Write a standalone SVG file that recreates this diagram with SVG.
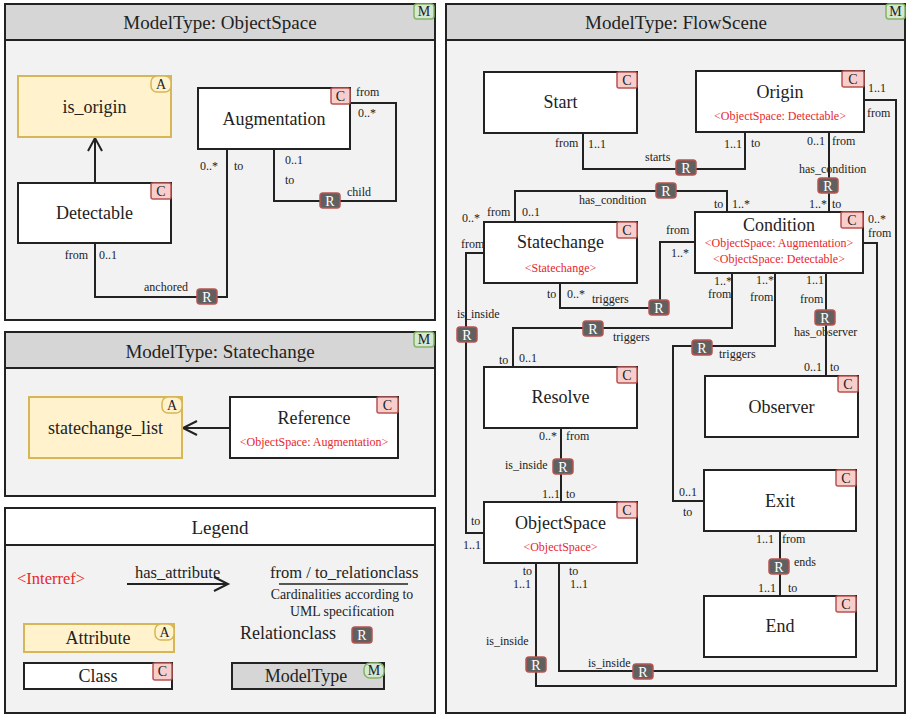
<svg xmlns="http://www.w3.org/2000/svg" width="906" height="714" viewBox="0 0 906 714" font-family="'Liberation Serif', 'DejaVu Serif', serif">
<style>
text{fill:#222}
.panel{fill:#f2f2f2;stroke:#222;stroke-width:2}
.hdr{fill:#d6d6d6;stroke:#222;stroke-width:2}
.hdrw{fill:#fff;stroke:#222;stroke-width:2}
.title{font-size:19px;text-anchor:middle}
.node{fill:#fff;stroke:#222;stroke-width:2}
.attr{fill:#fff2cc;stroke:#d6b656;stroke-width:2}
.lbl{font-size:18px;text-anchor:middle}
.red{font-size:12px;text-anchor:middle;fill:#e8272b}
.s{font-size:12px}
.e{text-anchor:end}
.bc{fill:#f8cecc;stroke:#b85450;stroke-width:1.5}
.ba{fill:#fff2cc;stroke:#d6b656;stroke-width:1.5}
.bm{fill:#d5e8d4;stroke:#82b366;stroke-width:1.5}
.br{fill:#606060;stroke:#b85450;stroke-width:1.5}
.bt{font-size:14px;text-anchor:middle}
.rt{font-size:14px;text-anchor:middle;fill:#fff}
.con{fill:none;stroke:#222;stroke-width:2}
.leg{font-size:16.5px}
</style>

<!-- ObjectSpace panel -->
<g id="panel-objectspace">
<rect class="panel" x="5" y="4" width="430" height="316"/>
<rect class="hdr" x="5" y="4" width="430" height="36"/>
<text class="title" x="220" y="29">ModelType: ObjectSpace</text>
<rect class="bm" x="414" y="4" width="20" height="15" rx="3"/><text class="bt" x="424" y="16">M</text>
</g>

<!-- Statechange panel -->
<g id="panel-statechange">
<rect class="panel" x="5" y="332" width="430" height="164"/>
<rect class="hdr" x="5" y="332" width="430" height="36"/>
<text class="title" x="220" y="358">ModelType: Statechange</text>
<rect class="bm" x="414" y="332" width="20" height="15" rx="3"/><text class="bt" x="424" y="344">M</text>
</g>

<!-- Legend panel -->
<g id="legend">
<rect class="panel" x="5" y="508" width="430" height="205"/>
<rect class="hdrw" x="5" y="508" width="430" height="37"/>
<text class="title" x="220" y="534">Legend</text>
<text class="leg" x="17" y="584" style="fill:#e8272b">&lt;Interref&gt;</text>
<text class="leg" x="135" y="578">has_attribute</text>
<path class="con" d="M127,584 H228 M214,577 L228,584 L214,591" stroke-width="1.5"/>
<text class="leg" x="270" y="578">from / to_relationclass</text>
<line x1="279" y1="584" x2="408" y2="584" stroke="#222" stroke-width="1.5"/>
<text x="342" y="599" style="font-size:13.8px;text-anchor:middle">Cardinalities according to</text>
<text x="342" y="616" style="font-size:13.8px;text-anchor:middle">UML specification</text>
<rect class="attr" x="24" y="624" width="150" height="28"/>
<rect class="ba" x="155" y="624" width="19" height="16" rx="6"/><text class="bt" x="164.5" y="637">A</text>
<text class="lbl" x="98" y="644">Attribute</text>
<text x="240" y="639" style="font-size:18px">Relationclass</text>
<rect class="br" x="352" y="627" width="20" height="16" rx="3"/><text class="rt" x="362" y="640">R</text>
<rect class="node" x="24" y="663" width="148" height="26"/>
<rect class="bc" x="153" y="663" width="19" height="17" rx="2"/><text class="bt" x="162.5" y="676">C</text>
<text class="lbl" x="98" y="682">Class</text>
<rect class="hdr" x="232" y="663" width="152" height="26"/>
<rect class="bm" x="364" y="663" width="20" height="15" rx="6"/><text class="bt" x="374" y="675">M</text>
<text class="lbl" x="306" y="682">ModelType</text>
</g>

<!-- FlowScene panel -->
<g id="panel-flowscene">
<rect class="panel" x="446" y="4" width="459" height="709"/>
<rect class="hdr" x="446" y="4" width="459" height="36"/>
<text class="title" x="676" y="29">ModelType: FlowScene</text>
<rect class="bm" x="886" y="4" width="19" height="15" rx="3"/><text class="bt" x="895.5" y="16">M</text>
</g>

<!-- Connectors -->
<g id="connectors">
<!-- ObjectSpace panel -->
<path class="con" d="M95,183 V138 M88,151 L95,138 L102,151"/>
<path class="con" d="M350,103 H396 V201 H274 V149"/>
<path class="con" d="M95,243 V297 H227 V149"/>
<!-- Statechange panel -->
<path class="con" d="M230,428 H183 M197,421 L183,428 L197,435"/>
<!-- FlowScene -->
<path class="con" d="M583,133 V169 H745 V132"/>
<path class="con" d="M829,132 V212"/>
<path class="con" d="M864,100 H896 V686 H536 V563"/>
<path class="con" d="M863,243 H877 V671 H559 V563"/>
<path class="con" d="M515,222 V191 H727 V212"/>
<path class="con" d="M695,242 H660 V308 H560 V283"/>
<path class="con" d="M732,273 V328 H513 V367"/>
<path class="con" d="M775,273 V346 H673 V501 H704"/>
<path class="con" d="M826,273 V376"/>
<path class="con" d="M484,253 H466 V533 H484"/>
<path class="con" d="M561,428 V502"/>
<path class="con" d="M780,531 V596"/>

<!-- relation badges -->
<rect class="br" x="320" y="193" width="20" height="15" rx="3"/><text class="rt" x="330" y="206">R</text>
<rect class="br" x="197" y="289" width="20" height="15" rx="3"/><text class="rt" x="207" y="302">R</text>
<rect class="br" x="676" y="160" width="20" height="15" rx="3"/><text class="rt" x="686" y="173">R</text>
<rect class="br" x="818" y="178" width="20" height="15" rx="3"/><text class="rt" x="828" y="191">R</text>
<rect class="br" x="656" y="183" width="20" height="15" rx="3"/><text class="rt" x="666" y="196">R</text>
<rect class="br" x="649" y="300" width="20" height="15" rx="3"/><text class="rt" x="659" y="313">R</text>
<rect class="br" x="583" y="321" width="20" height="15" rx="3"/><text class="rt" x="593" y="334">R</text>
<rect class="br" x="692" y="340" width="20" height="15" rx="3"/><text class="rt" x="702" y="353">R</text>
<rect class="br" x="815" y="310" width="20" height="15" rx="3"/><text class="rt" x="825" y="323">R</text>
<rect class="br" x="457" y="327" width="20" height="15" rx="3"/><text class="rt" x="467" y="340">R</text>
<rect class="br" x="553" y="459" width="20" height="15" rx="3"/><text class="rt" x="563" y="472">R</text>
<rect class="br" x="769" y="559" width="20" height="15" rx="3"/><text class="rt" x="779" y="572">R</text>
<rect class="br" x="526" y="657" width="20" height="15" rx="3"/><text class="rt" x="536" y="670">R</text>
<rect class="br" x="633" y="664" width="20" height="15" rx="3"/><text class="rt" x="643" y="677">R</text>

<!-- labels ObjectSpace panel -->
<text class="s e" x="88" y="259">from</text>
<text class="s" x="99" y="259">0..1</text>
<text class="s" x="144" y="291">anchored</text>
<text class="s" x="200" y="170">0..*</text>
<text class="s" x="234" y="170">to</text>
<text class="s" x="285" y="164">0..1</text>
<text class="s" x="285" y="184">to</text>
<text class="s" x="347" y="196">child</text>
<text class="s" x="356" y="96">from</text>
<text class="s" x="358" y="117">0..*</text>

<!-- labels FlowScene -->
<text class="s" x="555" y="147">from</text>
<text class="s" x="588" y="148">1..1</text>
<text class="s" x="645" y="161">starts</text>
<text class="s" x="724" y="148">1..1</text>
<text class="s" x="751" y="147">to</text>

<text class="s" x="807" y="145">0..1</text>
<text class="s" x="832" y="145">from</text>
<text class="s" x="799" y="173">has_condition</text>
<text class="s" x="809" y="208">1..*</text>
<text class="s" x="832" y="208">to</text>

<text class="s" x="868" y="92">1..1</text>
<text class="s" x="867" y="117">from</text>
<text class="s e" x="532" y="575">to</text>
<text class="s e" x="531" y="588">1..1</text>
<text class="s" x="486" y="645">is_inside</text>

<text class="s" x="868" y="223">0..*</text>
<text class="s" x="868" y="237">from</text>
<text class="s" x="569" y="575">to</text>
<text class="s" x="570" y="588">1..1</text>
<text class="s" x="588" y="667">is_inside</text>

<text class="s" x="462" y="222">0..*</text>
<text class="s" x="487" y="216">from</text>
<text class="s" x="522" y="216">0..1</text>
<text class="s" x="579" y="204">has_condition</text>
<text class="s" x="714" y="208">to</text>
<text class="s" x="732" y="208">1..*</text>

<text class="s" x="666" y="234">from</text>
<text class="s" x="671" y="257">1..*</text>
<text class="s" x="547" y="298">to</text>
<text class="s" x="567" y="298">0..*</text>
<text class="s" x="592" y="303">triggers</text>

<text class="s" x="714" y="285">1..*</text>
<text class="s" x="708" y="298">from</text>
<text class="s" x="613" y="341">triggers</text>
<text class="s" x="499" y="364">to</text>
<text class="s" x="519" y="362">0..1</text>

<text class="s" x="756" y="284">1..*</text>
<text class="s" x="750" y="301">from</text>
<text class="s" x="719" y="358">triggers</text>
<text class="s" x="679" y="496">0..1</text>
<text class="s" x="683" y="516">to</text>

<text class="s" x="806" y="284">1..1</text>
<text class="s" x="800" y="303">from</text>
<text class="s" x="794" y="336">has_observer</text>
<text class="s" x="804" y="371">0..1</text>
<text class="s" x="830" y="371">to</text>

<text class="s" x="461" y="248">from</text>
<text class="s" x="457" y="318">is_inside</text>
<text class="s" x="471" y="525">to</text>
<text class="s" x="463" y="549">1..1</text>

<text class="s" x="539" y="440">0..*</text>
<text class="s" x="566" y="440">from</text>
<text class="s" x="505" y="469">is_inside</text>
<text class="s" x="542" y="498">1..1</text>
<text class="s" x="566" y="498">to</text>

<text class="s" x="756" y="543">1..1</text>
<text class="s" x="782" y="543">from</text>
<text class="s" x="794" y="566">ends</text>
<text class="s" x="758" y="592">1..1</text>
<text class="s" x="788" y="592">to</text>
</g>

<!-- Nodes: ObjectSpace panel -->
<g id="is_origin">
<rect class="attr" x="18" y="76" width="153" height="61"/>
<rect class="ba" x="151" y="76" width="20" height="16" rx="6"/><text class="bt" x="161" y="89">A</text>
<text class="lbl" x="94.5" y="113">is_origin</text>
</g>
<g id="detectable">
<rect class="node" x="18" y="183" width="153" height="60"/>
<rect class="bc" x="151" y="183" width="20" height="16" rx="2"/><text class="bt" x="161" y="196">C</text>
<text class="lbl" x="94.5" y="219">Detectable</text>
</g>
<g id="augmentation">
<rect class="node" x="198" y="88" width="152" height="61"/>
<rect class="bc" x="331" y="88" width="19" height="16" rx="2"/><text class="bt" x="340.5" y="101">C</text>
<text class="lbl" x="274" y="125">Augmentation</text>
</g>

<!-- Nodes: Statechange panel -->
<g id="statechange_list">
<rect class="attr" x="29" y="397" width="153" height="61"/>
<rect class="ba" x="162" y="397" width="20" height="16" rx="6"/><text class="bt" x="172" y="410">A</text>
<text class="lbl" x="105.5" y="434">statechange_list</text>
</g>
<g id="reference">
<rect class="node" x="230" y="397" width="168" height="61"/>
<rect class="bc" x="377" y="397" width="21" height="16" rx="2"/><text class="bt" x="387.5" y="410">C</text>
<text class="lbl" x="314" y="424">Reference</text>
<text class="red" x="314" y="446">&lt;ObjectSpace: Augmentation&gt;</text>
</g>

<!-- Nodes: FlowScene -->
<g id="start">
<rect class="node" x="484" y="72" width="153" height="61"/>
<rect class="bc" x="617" y="72" width="20" height="16" rx="2"/><text class="bt" x="627" y="85">C</text>
<text class="lbl" x="560.5" y="108">Start</text>
</g>
<g id="origin">
<rect class="node" x="696" y="71" width="168" height="61"/>
<rect class="bc" x="842" y="71" width="22" height="16" rx="2"/><text class="bt" x="853" y="84">C</text>
<text class="lbl" x="780" y="98">Origin</text>
<text class="red" x="780" y="120">&lt;ObjectSpace: Detectable&gt;</text>
</g>
<g id="condition">
<rect class="node" x="695" y="212" width="168" height="61"/>
<rect class="bc" x="841" y="212" width="22" height="16" rx="2"/><text class="bt" x="852" y="225">C</text>
<text class="lbl" x="779" y="231">Condition</text>
<text class="red" x="779" y="247">&lt;ObjectSpace: Augmentation&gt;</text>
<text class="red" x="779" y="263">&lt;ObjectSpace: Detectable&gt;</text>
</g>
<g id="statechange">
<rect class="node" x="484" y="222" width="153" height="61"/>
<rect class="bc" x="617" y="222" width="20" height="16" rx="2"/><text class="bt" x="627" y="235">C</text>
<text class="lbl" x="560.5" y="248">Statechange</text>
<text class="red" x="560.5" y="272">&lt;Statechange&gt;</text>
</g>
<g id="resolve">
<rect class="node" x="484" y="367" width="153" height="61"/>
<rect class="bc" x="617" y="367" width="20" height="16" rx="2"/><text class="bt" x="627" y="380">C</text>
<text class="lbl" x="560.5" y="403">Resolve</text>
</g>
<g id="observer">
<rect class="node" x="705" y="376" width="153" height="61"/>
<rect class="bc" x="838" y="376" width="20" height="16" rx="2"/><text class="bt" x="848" y="389">C</text>
<text class="lbl" x="781.5" y="413">Observer</text>
</g>
<g id="exit">
<rect class="node" x="704" y="470" width="152" height="61"/>
<rect class="bc" x="836" y="470" width="20" height="16" rx="2"/><text class="bt" x="846" y="483">C</text>
<text class="lbl" x="780" y="507">Exit</text>
</g>
<g id="objectspace">
<rect class="node" x="484" y="502" width="153" height="61"/>
<rect class="bc" x="617" y="502" width="20" height="16" rx="2"/><text class="bt" x="627" y="515">C</text>
<text class="lbl" x="560.5" y="529">ObjectSpace</text>
<text class="red" x="560.5" y="551">&lt;ObjectSpace&gt;</text>
</g>
<g id="end">
<rect class="node" x="704" y="596" width="152" height="61"/>
<rect class="bc" x="836" y="596" width="20" height="16" rx="2"/><text class="bt" x="846" y="609">C</text>
<text class="lbl" x="780" y="632">End</text>
</g>
</svg>
